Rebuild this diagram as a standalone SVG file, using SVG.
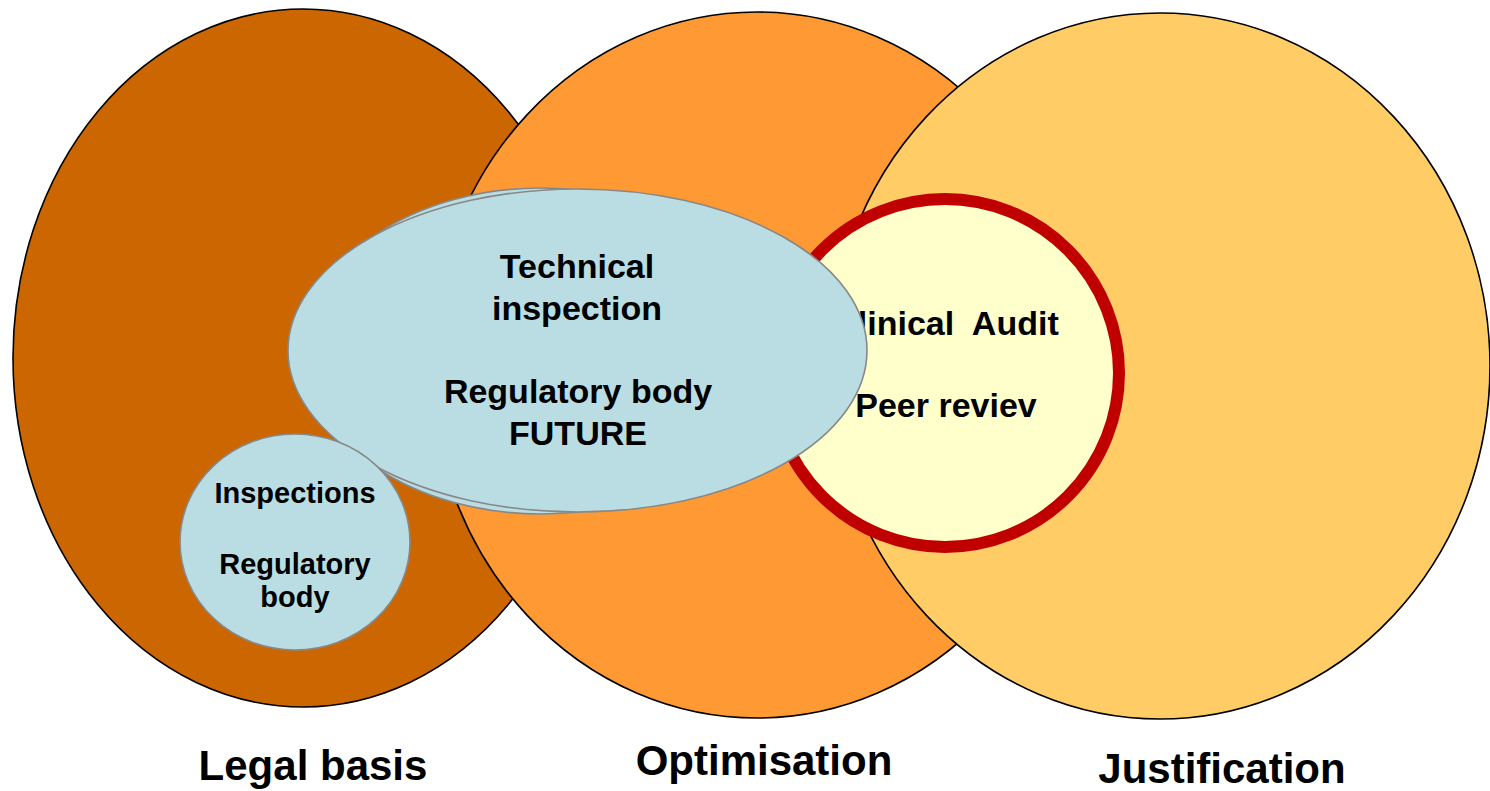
<svg xmlns="http://www.w3.org/2000/svg" width="1490" height="791" viewBox="0 0 1490 791">
<style>
.big{stroke:#000;stroke-width:1.6}
.blue{fill:#B9DDE2;stroke:#888;stroke-width:1.6}
text{font-family:"Liberation Sans",Arial,sans-serif;font-weight:bold;fill:#000;text-anchor:middle}
.t34{font-size:34px}
.t29{font-size:29px}
.t42{font-size:42px}
</style>
<rect width="1490" height="791" fill="#fff"/>
<g id="legal-basis">
<ellipse class="big" cx="303" cy="358" rx="290" ry="349" fill="#CC6600"/>
</g>
<g id="optimisation">
<ellipse class="big" cx="757" cy="365" rx="326" ry="353" fill="#FF9933"/>
</g>
<g id="justification">
<ellipse class="big" cx="1160" cy="366" rx="330" ry="353" fill="#FFCC66"/>
</g>
<g id="clinical-audit">
<circle cx="945" cy="373" r="174" fill="#FFFFCC" stroke="#C00000" stroke-width="12"/>
<text class="t34" x="946" y="335" style="white-space:pre">Clinical  Audit</text>
<text class="t34" x="946" y="417">Peer reviev</text>
</g>
<g id="technical-inspection">
<ellipse class="blue" cx="541" cy="351" rx="236" ry="163"/>
<ellipse class="blue" cx="577.5" cy="350.5" rx="289.5" ry="161.5"/>
<text class="t34" x="577" y="278">Technical</text>
<text class="t34" x="577" y="320">inspection</text>
<text class="t34" x="578" y="403">Regulatory body</text>
<text class="t34" x="578" y="445">FUTURE</text>
</g>
<g id="inspections">
<ellipse class="blue" cx="295" cy="542" rx="115" ry="108"/>
<text class="t29" x="295" y="503">Inspections</text>
<text class="t29" x="295" y="574">Regulatory</text>
<text class="t29" x="295" y="607">body</text>
</g>
<g id="labels">
<text class="t42" x="313" y="780">Legal basis</text>
<text class="t42" x="764" y="775">Optimisation</text>
<text class="t42" x="1222" y="783">Justification</text>
</g>
<g id="connectors"/>
</svg>
